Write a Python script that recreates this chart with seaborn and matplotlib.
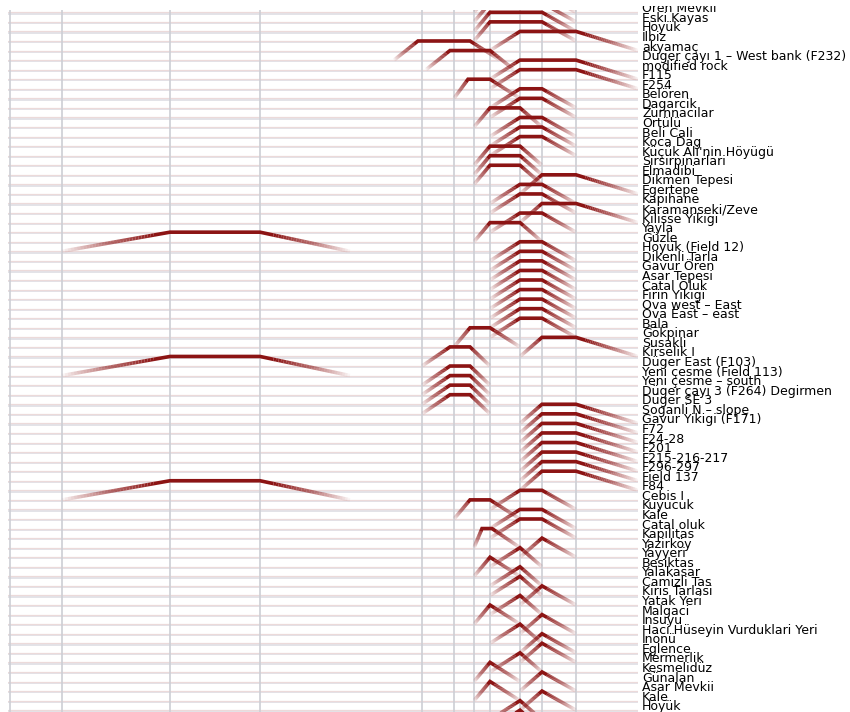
import numpy as np
import pandas as pd
import matplotlib
matplotlib.use("Agg")
import matplotlib.pyplot as plt
import seaborn as sns
from matplotlib.collections import LineCollection
from matplotlib.colors import to_rgba
from matplotlib.transforms import Bbox, TransformedBbox

# sites, top to bottom (one row each)
sites = [
    "Ören Mevkii", "Eski Kayas", "Höyük", "Ilbiz", "akyamaç",
    "Düger çayı 1 – West bank (F232)", "modified rock", "F115", "F254", "Belören",
    "Dagarcik", "Zurnnacilar", "Ortülü", "Beli Cali", "Koca Dag",
    "Küçük Ali'nin Höyügü", "Sirsirpinarlari", "Elmadibi", "Dikmen Tepesi", "Egertepe",
    "Kapihane", "Karamanseki/Zeve", "Kilisse Yikigi", "Yayla", "Güzle",
    "Höyük (Field 12)", "Dikenli Tarla", "Gavur Ören", "Asar Tepesi", "Catal Oluk",
    "Firin Yikigi", "Ova west – East", "Ova East – east", "Bala", "Gökpinar",
    "Susakli", "Kirselik I", "Düger East (F103)", "Yeni çesme (Field 113)", "Yeni çesme – south",
    "Düger çayı 3 (F264) Degirmen", "Düger SE 3", "Soganli N – slope", "Gavur Yikigi (F171)", "F72",
    "F24-28", "F201", "F215-216-217", "F296-297", "Field 137",
    "F84", "Cebis I", "Kuyucuk", "Kale", "Catal oluk",
    "Kapilitas", "Yazirköy", "Yayyeri", "Besiktas", "Yalakasar",
    "Camizli Tas", "Kiris Tarlasi", "Yatak Yeri", "Malgaci", "Insuyu",
    "Haci Hüseyin Vurduklari Yeri", "Inönü", "Eglence", "Mermerlik", "Kesmelidüz",
    "Günalan", "Asar Mevkii", "Kale", "Höyük", "Küdüstan",
    "Tepecik",
]

# dating of each site (years): start, fully dated from, fully dated to, end
phase_start = [
    -200, -200, -200, -200, 0, -1200, -800, 0, 0, -450,
    0, 0, -200, 0, 0, 0, -200, -200, -200, 375,
    0, 0, 375, 0, -200, -5350, 0, 0, 0, 0,
    0, 0, 0, 0, 0, -450, 375, -850, -5350, -850,
    -850, -850, -850, 375, 375, 375, 375, 375, 375, 375,
    375, -5350, 0, -450, 0, 0, -200, 375, 0, -200,
    0, 0, 375, 0, -200, 375, 0, 375, 375, 0,
    -200, 375, -200, 375, 0, 0,
]
phase_full_from = [
    0, 0, 0, 0, 375, -900, -500, 375, 375, -275,
    375, 375, 0, 375, 375, 375, 0, 0, 0, 650,
    375, 375, 650, 375, 0, -4000, 375, 375, 375, 375,
    375, 375, 375, 375, 375, -250, 650, -500, -4000, -500,
    -500, -500, -500, 650, 650, 650, 650, 650, 650, 650,
    650, -4000, 375, -250, 375, 375, -100, 650, 375, 0,
    375, 375, 650, 375, 0, 650, 375, 650, 650, 375,
    0, 650, 0, 650, 375, 375,
]
phase_full_to = [
    650, 650, 650, 650, 1075, -250, 0, 1075, 1075, 0,
    650, 650, 375, 650, 650, 650, 375, 375, 375, 1075,
    650, 650, 1075, 650, 375, -2875, 650, 650, 650, 650,
    650, 650, 650, 650, 650, 0, 1075, -250, -2875, -250,
    -250, -250, -250, 1075, 1075, 1075, 1075, 1075, 1075, 1075,
    1075, -2875, 650, 0, 650, 650, 25, 650, 375, 0,
    375, 375, 650, 375, 0, 650, 375, 650, 650, 375,
    0, 650, 0, 650, 375, 375,
]
phase_end = [
    1075, 1075, 1075, 1075, 1850, 125, 300, 1850, 1850, 375,
    1075, 1075, 650, 1075, 1075, 1075, 650, 650, 650, 1850,
    1075, 1075, 1850, 1075, 650, -1750, 1075, 1075, 1075, 1075,
    1075, 1075, 1075, 1075, 1075, 375, 1850, 0, -1750, 0,
    0, 0, 0, 1850, 1850, 1850, 1850, 1850, 1850, 1850,
    1850, -1750, 1075, 375, 1075, 1075, 375, 1075, 650, 375,
    650, 650, 1075, 650, 375, 1075, 650, 1075, 1075, 650,
    375, 1075, 375, 1075, 650, 650,
]

# period boundaries drawn as vertical grid lines
period_bounds = [-6000, -5350, -4000, -2875, -850, -450, -200, 0, 375, 650, 1075]

RED = "#8c1414"
H = 2.0      # trapezoid height in rows
CORE = 0.85  # part of the slope drawn solid at the top

sns.set_theme(style="white")
plt.rcParams["font.family"] = ["DejaVu Sans"]

fig = plt.figure(figsize=(8.5, 7.12), dpi=100)
ax = fig.add_axes([8 / 850, 0, 630 / 850, 702 / 712])

rows = np.arange(len(sites))
for r in rows:
    ax.axhline(r + 0.13, color="#e0e1e6", lw=1.3, zorder=0)
    ax.axhline(r, color="#ecdada", lw=0.9, zorder=0.1)
for b in period_bounds:
    ax.axvline(b, color="#cdced4", lw=1.2, zorder=0.2)

# build solid cores (plateau + top of slopes) and faded slope segments
core_pts, segs, cols = [], [], []
base = np.array(to_rgba(RED))
for pid, (r, a, b, c, d) in enumerate(zip(rows, phase_start, phase_full_from,
                                          phase_full_to, phase_end)):
    top = r - H
    pts = [(a + (b - a) * CORE, r - H * CORE), (b, top), (c, top),
           (d - (d - c) * CORE, r - H * CORE)]
    for x, y in pts:
        core_pts.append({"pid": pid, "year": x, "level": y})
    t = np.linspace(0, CORE, 31)
    for x0, x1 in [(a, b), (d, c)]:
        xs = x0 + (x1 - x0) * t
        ys = r - H * t
        for k in range(30):
            segs.append([(xs[k], ys[k]), (xs[k + 1], ys[k + 1])])
            col = base.copy()
            col[3] = (((t[k] + t[k + 1]) / 2) / CORE) ** 0.8
            cols.append(col)

core = pd.DataFrame(core_pts)

lc = LineCollection(segs, colors=cols, linewidths=2.6, capstyle="butt", zorder=2)
ax.add_collection(lc)
sns.lineplot(data=core, x="year", y="level", units="pid", estimator=None, sort=False,
             color=RED, linewidth=2.6, legend=False, ax=ax, zorder=3,
             solid_joinstyle="miter", solid_capstyle="butt")

ax.set_xlabel("")
ax.set_ylabel("")
ax.set_xticks([])
ax.yaxis.tick_right()
ax.set_yticks(rows, labels=sites)
ax.tick_params(axis="y", length=0, pad=3, labelsize=9.0, labelcolor="#000000")
clip = TransformedBbox(Bbox([[0, 0], [1, (712 - 6) / 712]]), fig.transFigure)
for lab in ax.get_yticklabels():
    lab.set_va("baseline")
    lab.set_clip_on(True)
    lab.set_clip_box(clip)
for s in ax.spines.values():
    s.set_visible(False)

# limits last, so the ticks do not widen them
ax.set_xlim(-6025, 1850)
ax.set_ylim(73.19, -0.24)

fig.savefig("out.png", dpi=100)
